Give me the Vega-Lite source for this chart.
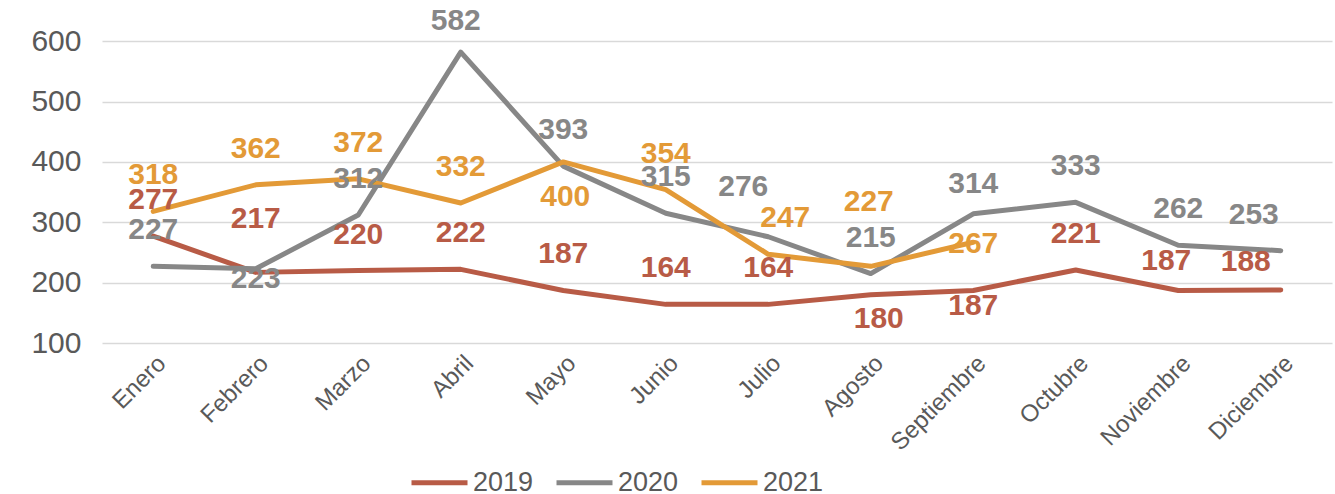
{
  "$schema": "https://vega.github.io/schema/vega-lite/v6.json",
  "width": 1230,
  "height": 332,
  "autosize": {"type": "none"},
  "padding": {"left": 102, "top": 11, "right": 3, "bottom": 151},
  "background": "white",
  "config": {
    "view": {"stroke": null},
    "font": "Liberation Sans",
    "text": {"font": "Liberation Sans", "fontWeight": "bold", "fontSize": 30, "baseline": "middle", "align": "center"}
  },
  "data": {
    "values": [
      {"m": "Enero", "y": "2019", "v": 277}, {"m": "Febrero", "y": "2019", "v": 217}, {"m": "Marzo", "y": "2019", "v": 220},
      {"m": "Abril", "y": "2019", "v": 222}, {"m": "Mayo", "y": "2019", "v": 187}, {"m": "Junio", "y": "2019", "v": 164},
      {"m": "Julio", "y": "2019", "v": 164}, {"m": "Agosto", "y": "2019", "v": 180}, {"m": "Septiembre", "y": "2019", "v": 187},
      {"m": "Octubre", "y": "2019", "v": 221}, {"m": "Noviembre", "y": "2019", "v": 187}, {"m": "Diciembre", "y": "2019", "v": 188},
      {"m": "Enero", "y": "2020", "v": 227}, {"m": "Febrero", "y": "2020", "v": 223}, {"m": "Marzo", "y": "2020", "v": 312},
      {"m": "Abril", "y": "2020", "v": 582}, {"m": "Mayo", "y": "2020", "v": 393}, {"m": "Junio", "y": "2020", "v": 315},
      {"m": "Julio", "y": "2020", "v": 276}, {"m": "Agosto", "y": "2020", "v": 215}, {"m": "Septiembre", "y": "2020", "v": 314},
      {"m": "Octubre", "y": "2020", "v": 333}, {"m": "Noviembre", "y": "2020", "v": 262}, {"m": "Diciembre", "y": "2020", "v": 253},
      {"m": "Enero", "y": "2021", "v": 318}, {"m": "Febrero", "y": "2021", "v": 362}, {"m": "Marzo", "y": "2021", "v": 372},
      {"m": "Abril", "y": "2021", "v": 332}, {"m": "Mayo", "y": "2021", "v": 400}, {"m": "Junio", "y": "2021", "v": 354},
      {"m": "Julio", "y": "2021", "v": 247}, {"m": "Agosto", "y": "2021", "v": 227}, {"m": "Septiembre", "y": "2021", "v": 267}
    ]
  },
  "encoding": {
    "x": {
      "field": "m", "type": "ordinal",
      "sort": ["Enero", "Febrero", "Marzo", "Abril", "Mayo", "Junio", "Julio", "Agosto", "Septiembre", "Octubre", "Noviembre", "Diciembre"],
      "scale": {"type": "point", "padding": 0.5},
      "axis": {"title": null, "labelAngle": -45, "labelFontSize": 24, "labelColor": "#595959", "labelFont": "Liberation Sans", "ticks": false, "domain": false, "grid": false, "labelPadding": 8}
    },
    "y": {
      "field": "v", "type": "quantitative",
      "scale": {"domain": [100, 650], "nice": false, "zero": false},
      "axis": {"title": null, "values": [100, 200, 300, 400, 500, 600], "labelFontSize": 30, "labelColor": "#595959", "labelFont": "Liberation Sans", "ticks": false, "domain": false, "gridColor": "#D9D9D9", "gridWidth": 1.5, "labelPadding": 21}
    },
    "color": {
      "field": "y", "type": "nominal",
      "scale": {"domain": ["2019", "2020", "2021"], "range": ["#B85B46", "#878787", "#E39A37"]}
    },
    "text": {"field": "v", "type": "quantitative"}
  },
  "layer": [
    {
      "mark": {"type": "line", "strokeWidth": 5, "strokeCap": "round", "strokeJoin": "round"},
      "encoding": {
        "color": {
          "field": "y", "type": "nominal",
          "scale": {"domain": ["2019", "2020", "2021"], "range": ["#B85B46", "#878787", "#E39A37"]},
          "legend": {"title": null, "orient": "none", "legendX": 307, "legendY": 441, "direction": "horizontal", "symbolType": "stroke", "symbolSize": 3136, "symbolStrokeWidth": 5, "labelFontSize": 27, "labelColor": "#595959", "labelFont": "Liberation Sans", "labelOffset": 3, "columnPadding": 12}
        }
      }
    },
    {
      "transform": [{"filter": "indexof(['2019Febrero','2019Agosto','2019Septiembre','2019Noviembre','2019Diciembre','2020Febrero','2020Abril','2020Julio','2020Septiembre','2020Diciembre','2021Mayo','2021Julio','2021Agosto','2021Septiembre'], datum.y + datum.m) < 0"}],
      "mark": {"type": "text", "dy": -36},
      "encoding": {"color": {"field": "y", "type": "nominal", "legend": null}}
    },
    {"transform": [{"filter": "datum.y + datum.m == '2019Febrero'"}], "mark": {"type": "text", "dy": -53}, "encoding": {"color": {"field": "y", "type": "nominal", "legend": null}}},
    {"transform": [{"filter": "datum.y + datum.m == '2019Agosto'"}], "mark": {"type": "text", "dx": 8, "dy": 24}, "encoding": {"color": {"field": "y", "type": "nominal", "legend": null}}},
    {"transform": [{"filter": "datum.y + datum.m == '2019Septiembre'"}], "mark": {"type": "text", "dy": 16}, "encoding": {"color": {"field": "y", "type": "nominal", "legend": null}}},
    {"transform": [{"filter": "datum.y + datum.m == '2019Noviembre'"}], "mark": {"type": "text", "dx": -12, "dy": -29}, "encoding": {"color": {"field": "y", "type": "nominal", "legend": null}}},
    {"transform": [{"filter": "datum.y + datum.m == '2019Diciembre'"}], "mark": {"type": "text", "dx": -35, "dy": -28}, "encoding": {"color": {"field": "y", "type": "nominal", "legend": null}}},
    {"transform": [{"filter": "datum.y + datum.m == '2020Febrero'"}], "mark": {"type": "text", "dy": 10}, "encoding": {"color": {"field": "y", "type": "nominal", "legend": null}}},
    {"transform": [{"filter": "datum.y + datum.m == '2020Abril'"}], "mark": {"type": "text", "dx": -5, "dy": -31}, "encoding": {"color": {"field": "y", "type": "nominal", "legend": null}}},
    {"transform": [{"filter": "datum.y + datum.m == '2020Julio'"}], "mark": {"type": "text", "dx": -25, "dy": -50}, "encoding": {"color": {"field": "y", "type": "nominal", "legend": null}}},
    {"transform": [{"filter": "datum.y + datum.m == '2020Septiembre'"}], "mark": {"type": "text", "dy": -30}, "encoding": {"color": {"field": "y", "type": "nominal", "legend": null}}},
    {"transform": [{"filter": "datum.y + datum.m == '2020Diciembre'"}], "mark": {"type": "text", "dx": -27, "dy": -36}, "encoding": {"color": {"field": "y", "type": "nominal", "legend": null}}},
    {"transform": [{"filter": "datum.y + datum.m == '2021Mayo'"}], "mark": {"type": "text", "dx": 2, "dy": 35}, "encoding": {"color": {"field": "y", "type": "nominal", "legend": null}}},
    {"transform": [{"filter": "datum.y + datum.m == '2021Julio'"}], "mark": {"type": "text", "dx": 17, "dy": -36}, "encoding": {"color": {"field": "y", "type": "nominal", "legend": null}}},
    {"transform": [{"filter": "datum.y + datum.m == '2021Agosto'"}], "mark": {"type": "text", "dx": -2, "dy": -64}, "encoding": {"color": {"field": "y", "type": "nominal", "legend": null}}},
    {"transform": [{"filter": "datum.y + datum.m == '2021Septiembre'"}], "mark": {"type": "text", "dy": 2}, "encoding": {"color": {"field": "y", "type": "nominal", "legend": null}}}
  ]
}
